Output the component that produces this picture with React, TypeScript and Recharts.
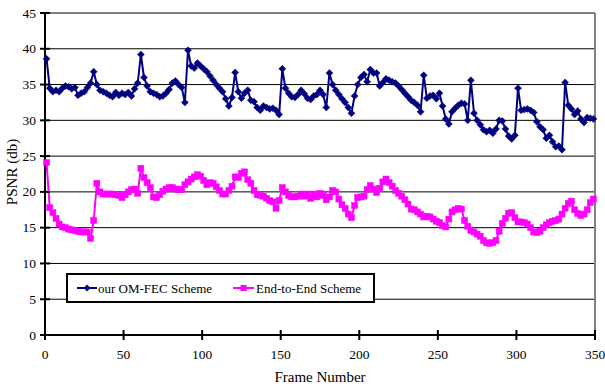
import React from 'react';
import { LineChart, Line, XAxis, YAxis, CartesianGrid, ReferenceLine } from 'recharts';

// frame numbers (every other frame)
const frames = Array.from({ length: 175 }, (_, i) => 2 * i + 1);

const omFec = [
  38.6, 34.5, 34.0, 34.2, 34.0, 34.5, 34.8, 34.7, 34.4, 34.6,
  33.5, 33.8, 34.0, 34.6, 35.2, 36.8, 35.0, 34.2, 34.0, 33.8,
  33.5, 33.3, 33.9, 33.5, 33.8, 33.6, 33.9, 33.4, 34.4, 35.2,
  39.2, 36.0, 34.8, 34.0, 33.8, 33.6, 33.3, 33.4, 33.8, 34.3,
  35.2, 35.5, 35.0, 34.6, 32.5, 39.8, 37.6, 37.3, 38.0, 37.6,
  37.2, 36.8, 36.2, 35.6, 35.0, 34.5, 34.0, 33.0, 32.0, 33.2,
  36.7, 34.0, 33.1, 33.8, 34.2, 32.8, 32.6, 31.8, 31.4, 32.0,
  31.8, 31.6, 31.7, 31.4, 30.8, 37.2, 34.5, 33.8, 33.3, 33.2,
  33.6, 34.2, 33.7, 33.1, 32.9, 33.4, 33.6, 34.2, 33.6, 31.8,
  36.6, 35.0, 34.2, 33.6, 33.0, 32.5, 31.8, 31.0, 33.4, 35.0,
  36.0, 36.4, 35.4, 37.1, 36.6, 36.6, 34.8, 35.3, 35.8, 35.6,
  35.4, 35.2, 34.8, 34.3, 33.8, 33.3, 32.8, 32.5, 32.1, 31.2,
  36.3, 33.1, 33.4, 33.5, 33.0, 33.8, 32.0, 30.2, 29.5, 31.2,
  31.7, 32.1, 32.4, 32.3, 30.0, 35.6, 31.0, 30.0, 29.4, 28.7,
  28.4, 28.6, 28.2, 28.8, 30.0, 29.9, 28.8, 27.8, 27.4, 27.9,
  34.5, 31.4, 31.5, 31.6, 31.4, 31.1, 29.8, 29.1, 28.7, 27.5,
  27.9, 27.0, 26.3, 26.4, 25.9, 35.3, 32.1, 31.6, 30.8, 31.3,
  30.2, 29.7, 30.4, 30.3, 30.2,
];

const endToEnd = [
  24.1, 17.8, 17.1, 16.3, 15.5, 15.1, 15.0, 14.8, 14.7, 14.6,
  14.5, 14.4, 14.4, 14.4, 13.5, 16.0, 21.2, 20.0, 19.7, 19.7,
  19.7, 19.7, 19.6, 19.5, 19.2, 19.6, 20.0, 20.3, 20.4, 19.8,
  23.3, 22.0, 21.3, 20.6, 19.3, 19.2, 19.6, 20.1, 20.4, 20.6,
  20.6, 20.4, 20.3, 20.3, 21.0, 21.4, 21.8, 22.1, 22.4, 22.2,
  21.6, 21.0, 21.3, 21.2, 20.7, 20.2, 19.7, 19.7, 20.2, 20.8,
  22.1, 22.0, 22.6, 22.8, 21.7, 21.2, 20.2, 19.6, 19.5, 19.4,
  19.1, 18.8, 18.6, 17.7, 18.8, 20.6, 20.0, 19.5, 19.3, 19.3,
  19.4, 19.7, 19.4, 19.7, 19.1, 19.7, 19.3, 19.8, 19.5, 18.9,
  19.3, 20.2, 20.0, 19.0, 18.2, 17.7, 16.9, 16.4, 18.1, 19.2,
  19.3, 19.4, 20.3, 20.9, 20.4, 19.9, 20.5, 21.4, 21.8, 21.3,
  20.8, 20.2, 19.8, 19.4, 18.9, 18.3, 17.6, 17.5, 17.2, 16.9,
  16.5, 16.6, 16.5, 16.2, 15.9, 15.7, 15.3, 15.1, 16.2, 17.2,
  17.5, 17.7, 17.6, 16.0, 15.2, 14.6, 14.4, 14.1, 13.8, 13.2,
  12.9, 12.8, 12.9, 13.2, 14.5, 15.6, 16.3, 17.0, 17.1, 16.4,
  15.8, 15.8, 15.7, 15.5, 15.0, 14.4, 14.3, 14.5, 15.0, 15.4,
  15.7, 15.9, 16.0, 16.2, 16.9, 17.7, 18.4, 18.7, 17.5, 17.0,
  16.7, 16.9, 17.5, 18.5, 19.0,
];

const xTicks = [0, 50, 100, 150, 200, 250, 300, 350];
const yTicks = [0, 5, 10, 15, 20, 25, 30, 35, 40, 45];

const BLUE = '#000080';
const PINK = '#FF00FF';
const FONT = "'Liberation Serif', 'Times New Roman', serif";

const data = frames.map((f, i) => ({ frame: f, omfec: omFec[i], e2e: endToEnd[i] }));

const Diamond = (props: any) => {
  const { cx, cy, index } = props;
  if (cx == null || cy == null) return <g key={`dm-${index}`} />;
  const r = 3.5;
  return (
    <path
      key={`dm-${index}`}
      d={`M${cx},${cy - r}L${cx + r},${cy}L${cx},${cy + r}L${cx - r},${cy}Z`}
      fill={BLUE}
      stroke={BLUE}
      strokeWidth={0.5}
    />
  );
};

const Square = (props: any) => {
  const { cx, cy, index } = props;
  if (cx == null || cy == null) return <g key={`sq-${index}`} />;
  return (
    <rect key={`sq-${index}`} x={cx - 3} y={cy - 3} width={6} height={6} fill={PINK} stroke={PINK} strokeWidth={0.5} />
  );
};

const XTick = (props: any) => {
  const { x, y, payload } = props;
  return (
    <g>
      <line x1={x} x2={x} y1={y - 5} y2={y + 5} stroke="#000" strokeWidth={2} />
      <text x={x} y={y + 24} textAnchor="middle" style={{ fontFamily: FONT, fontSize: 13.5 }} fill="#000">
        {payload.value}
      </text>
    </g>
  );
};

const YTick = (props: any) => {
  const { x, y, payload } = props;
  return (
    <g>
      <line x1={x - 5} x2={x + 5} y1={y} y2={y} stroke="#000" strokeWidth={2} />
      <text x={x - 9} y={y + 4.5} textAnchor="end" style={{ fontFamily: FONT, fontSize: 13.5 }} fill="#000">
        {payload.value}
      </text>
    </g>
  );
};

const LegendBox = () => (
  <div
    style={{
      position: 'absolute',
      left: 66,
      top: 273,
      width: 305,
      height: 26,
      border: '2px solid #000',
      background: '#fff',
    }}
  >
    <svg width={305} height={26} style={{ position: 'absolute', left: 0, top: 0, fontFamily: FONT }}>
      <line x1={9} x2={29} y1={13} y2={13} stroke={BLUE} strokeWidth={2} />
      <path d="M19,9.5L22.5,13L19,16.5L15.5,13Z" fill={BLUE} />
      <text x={30} y={17.5} style={{ fontFamily: FONT, fontSize: 13 }}>our OM-FEC Scheme</text>
      <line x1={165} x2={186} y1={13} y2={13} stroke={PINK} strokeWidth={2} />
      <rect x={172.5} y={10} width={6} height={6} fill={PINK} />
      <text x={188} y={17.5} style={{ fontFamily: FONT, fontSize: 13 }}>End-to-End Scheme</text>
    </svg>
  </div>
);

const App = () => {
  return (
    <div style={{ position: 'absolute', left: 0, top: 0, width: 605, height: 387, background: '#fff', fontFamily: FONT }}>
      <LineChart
        width={605}
        height={387}
        data={data}
        margin={{ top: 13, right: 10, bottom: 22, left: 0 }}
        style={{ fontFamily: FONT }}
      >
        <CartesianGrid vertical={false} stroke="#000" strokeWidth={1} />
        <XAxis
          dataKey="frame"
          type="number"
          domain={[0, 350]}
          ticks={xTicks}
          height={30}
          tickSize={0}
          tickMargin={0}
          tickLine={false}
          axisLine={{ stroke: '#000', strokeWidth: 2 }}
          tick={<XTick />}
          interval={0}
        />
        <YAxis
          type="number"
          domain={[0, 45]}
          ticks={yTicks}
          width={45}
          tickSize={0}
          tickMargin={0}
          tickLine={false}
          axisLine={{ stroke: '#000', strokeWidth: 2 }}
          tick={<YTick />}
          interval={0}
        />
        <ReferenceLine y={45} stroke="#808080" strokeWidth={2} />
        <ReferenceLine x={350} stroke="#808080" strokeWidth={2} />
        <Line
          type="linear"
          dataKey="omfec"
          stroke={BLUE}
          strokeWidth={2}
          dot={Diamond}
          isAnimationActive={false}
        />
        <Line
          type="linear"
          dataKey="e2e"
          stroke={PINK}
          strokeWidth={2}
          dot={Square}
          isAnimationActive={false}
        />
      </LineChart>
      <div
        style={{
          position: 'absolute',
          left: 12,
          top: 172,
          transform: 'translate(-50%, -50%) rotate(-90deg)',
          fontSize: 15,
          whiteSpace: 'nowrap',
        }}
      >
        PSNR (db)
      </div>
      <div
        style={{
          position: 'absolute',
          left: 320,
          top: 377,
          transform: 'translate(-50%, -50%)',
          fontSize: 15,
          whiteSpace: 'nowrap',
        }}
      >
        Frame Number
      </div>
      <LegendBox />
    </div>
  );
};

export default App;
